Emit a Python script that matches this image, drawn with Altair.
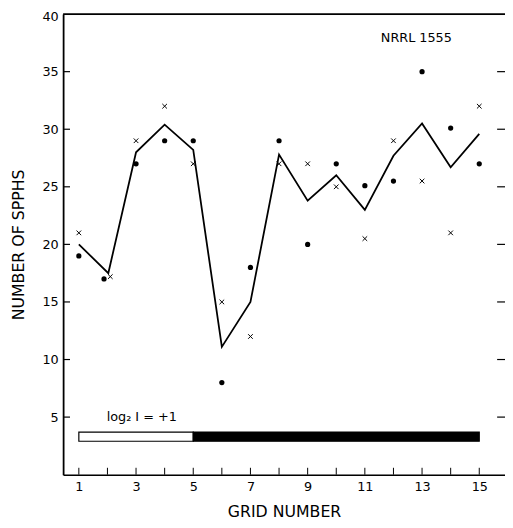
import altair as alt
import pandas as pd

grid = list(range(1, 16))
dot_x = [1, 1.88, 3, 4, 5, 6, 7, 8, 9, 10, 11, 12, 13, 14, 15]
dots = [19, 17, 27, 29, 29, 8, 18, 29, 20, 27, 25.1, 25.5, 35, 30.1, 27]
cross_x = [1, 2.1, 3, 4, 5, 6, 7, 8, 9, 10, 11, 12, 13, 14, 15]
crosses = [21, 17.2, 29, 32, 27, 15, 12, 27, 27, 25, 20.5, 29, 25.5, 21, 32]
line_x = [1, 2.03, 3, 4, 5, 6, 7, 8, 9, 10, 11, 12, 13, 14, 15]
mean_line = [20, 17.5, 28, 30.4, 28.2, 11.1, 15, 27.8, 23.8, 26, 23, 27.7, 30.5, 26.7, 29.6]

x_labels = [1, 3, 5, 7, 9, 11, 13, 15]
y_ticks = [5, 10, 15, 20, 25, 30, 35, 40]
inner_y_ticks = [5, 10, 15, 20, 25, 30, 35]

bar_start = [1, 5]
bar_end = [5, 15]
bar_fill = ["white", "black"]
bar_low, bar_high = 2.9, 3.7

FONT = "DejaVu Sans"
PW, PH = 449, 468

xs = alt.Scale(domain=[0.45, 15.9], nice=False, zero=False)
ys = alt.Scale(domain=[0, 40], nice=False, zero=False)

df_dots = pd.DataFrame({"x": dot_x, "y": dots})
df_cross = pd.DataFrame({"x": cross_x, "y": crosses})
df_line = pd.DataFrame({"x": line_x, "y": mean_line})
df_bar = pd.DataFrame({"x": bar_start, "x2": bar_end, "fill": bar_fill})
df_xt = pd.DataFrame({"x": grid})
df_yt = pd.DataFrame({"y": inner_y_ticks})

xaxis = alt.Axis(values=x_labels, ticks=False, grid=False, domainColor="black", domainWidth=1.5,
                 labelFont=FONT, labelFontSize=13, labelColor="black", labelPadding=6,
                 title="GRID NUMBER", titleFont=FONT, titleFontSize=16, titleFontWeight="normal",
                 titleColor="black", titlePadding=10)
yaxis = alt.Axis(values=y_ticks, ticks=False, grid=False, domainColor="black", domainWidth=1.8,
                 labelFont=FONT, labelFontSize=13, labelColor="black", labelPadding=5,
                 labelFlush=True, labelFlushOffset=3,
                 title="NUMBER OF SPPHS", titleFont=FONT, titleFontSize=16, titleFontWeight="normal",
                 titleColor="black", titlePadding=16)

line = alt.Chart(df_line).mark_line(color="black", strokeWidth=1.8).encode(
    x=alt.X("x:Q", scale=xs, axis=xaxis),
    y=alt.Y("y:Q", scale=ys, axis=yaxis),
)
pts = alt.Chart(df_dots).mark_circle(color="black", size=28, opacity=1).encode(
    x=alt.X("x:Q", scale=xs), y=alt.Y("y:Q", scale=ys))
crs = alt.Chart(df_cross).mark_point(shape="M-1,-1L1,1M-1,1L1,-1", filled=False, color="black",
                                     size=22, strokeWidth=1, opacity=1).encode(
    x=alt.X("x:Q", scale=xs), y=alt.Y("y:Q", scale=ys))
bar = alt.Chart(df_bar).mark_rect(stroke="black", strokeWidth=1.2).encode(
    x=alt.X("x:Q", scale=xs), x2="x2:Q",
    y=alt.datum(bar_low, scale=ys), y2=alt.datum(bar_high),
    fill=alt.Fill("fill:N", scale=None))
xt = alt.Chart(df_xt).mark_rule(color="black", strokeWidth=1).encode(
    x=alt.X("x:Q", scale=xs), y=alt.value(PH), y2=alt.value(PH - 7))
ytl = alt.Chart(df_yt).mark_rule(color="black", strokeWidth=1.2).encode(
    y=alt.Y("y:Q", scale=ys), x=alt.value(0), x2=alt.value(7))
ytr = alt.Chart(df_yt).mark_rule(color="black", strokeWidth=1.2).encode(
    y=alt.Y("y:Q", scale=ys), x=alt.value(PW - 8), x2=alt.value(PW))
top = alt.Chart(pd.DataFrame({"y": [40]})).mark_rule(color="black", strokeWidth=1.8).encode(
    y=alt.Y("y:Q", scale=ys), x=alt.value(0), x2=alt.value(PW))
lab1 = alt.Chart(pd.DataFrame({"x": [12.8], "y": [37.9], "t": ["NRRL 1555"]})).mark_text(
    font=FONT, fontSize=13, color="black").encode(
    x=alt.X("x:Q", scale=xs), y=alt.Y("y:Q", scale=ys), text="t:N")
lab2 = alt.Chart(pd.DataFrame({"x": [3.2], "y": [5.0], "t": ["log₂ I = +1"]})).mark_text(
    font=FONT, fontSize=13, color="black").encode(
    x=alt.X("x:Q", scale=xs), y=alt.Y("y:Q", scale=ys), text="t:N")

chart = alt.layer(line, pts, crs, bar, xt, ytl, ytr, top, lab1, lab2).properties(
    width=PW, height=PH,
    autosize=alt.AutoSizeParams(type="none"),
    padding={"left": 56, "top": 2, "right": 0, "bottom": 50},
).configure_view(strokeWidth=0).configure(background="white")

chart.save("out.html", embed_options={"renderer": "svg", "actions": False})
